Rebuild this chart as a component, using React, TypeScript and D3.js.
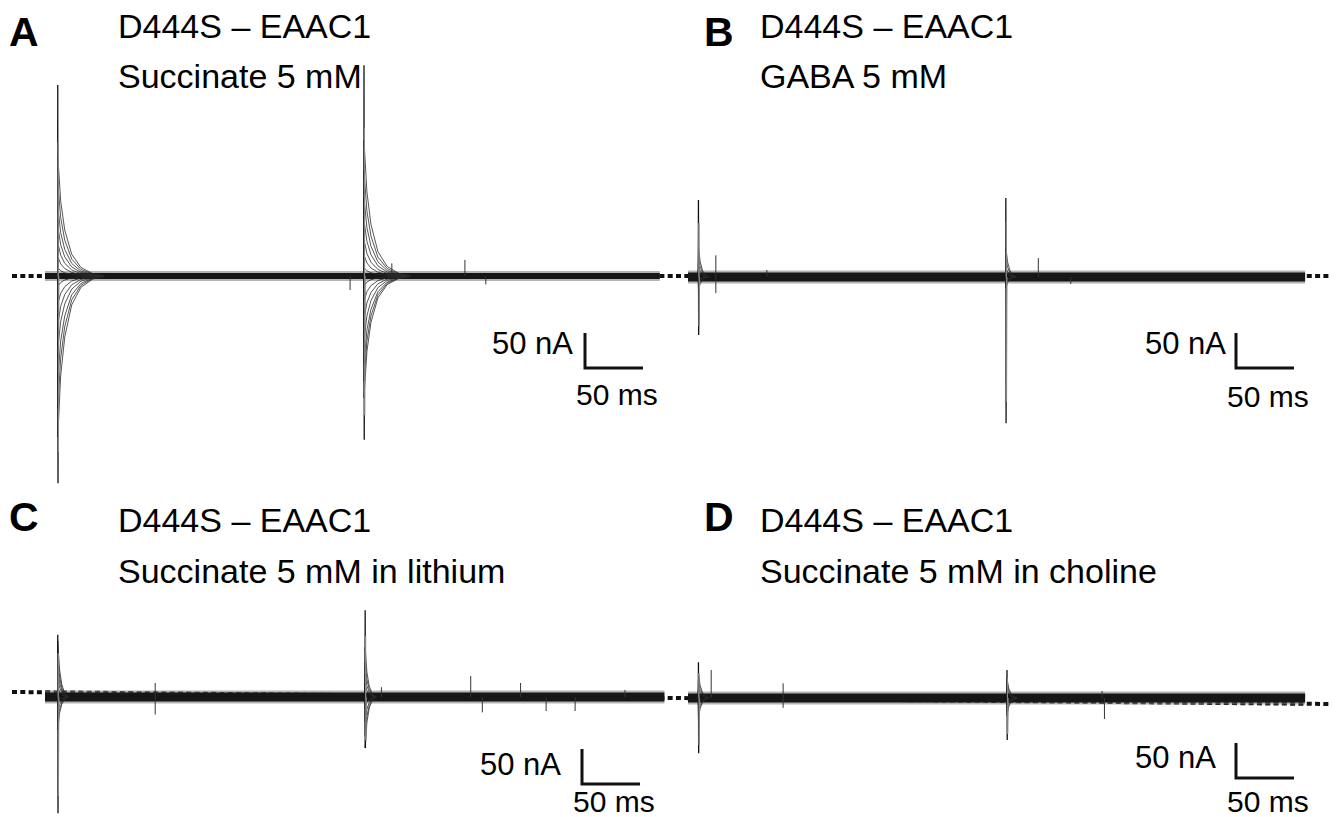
import React from 'react';
import * as d3 from 'd3';

// recordings: paired voltage pulses, family of sweeps overlaid
const panelLetters = ['A', 'B', 'C', 'D'];
const constructName = 'D444S \u2013 EAAC1';
const conditions = ['Succinate 5 mM', 'GABA 5 mM', 'Succinate 5 mM in lithium', 'Succinate 5 mM in choline'];

const sweepEndMs = [530, 532, 534, 532];
const pulse1Ms = [11, 9, 11, 9];
const pulse2Ms = [275, 274, 276, 275];

// capacitive spike extremes (nA), [pulse1, pulse2]
const spikePeakNa = [[273, 301], [110, 113], [89, 124], [51, 40]];
const spikeTroughNa = [[-296, -234], [-83, -209], [-166, -73], [-79, -60]];

// transient amplitude of each sweep of the family (nA)
const familyA1 = [173, 135, 100, 72, 48, 28, 12, -15, -40, -70, -105, -150, -190, -230];
const familyA2 = [194, 150, 112, 80, 52, 30, 12, -14, -36, -62, -92, -125, -150, -174];
const familyB1 = [43, 30, 18, 8, -6, -12, -19];
const familyB2 = [43, 28, 15, 6, -5, -10, -16];
const familyC1 = [80, 60, 42, 28, 15, -10, -22, -35, -47];
const familyC2 = [71, 50, 32, 18, -15, -35, -55, -73];
const familyD1 = [35, 25, 15, -12, -22, -29];
const familyD2 = [28, 20, 12, -10, -18, -25];
const families = [[familyA1, familyA2], [familyB1, familyB2], [familyC1, familyC2], [familyD1, familyD2]];

// relaxation after the pulse, fraction of peak vs time (ms)
const slowDecayMs = [0, 2.5, 6, 12, 20, 30, 40];
const slowDecayFrac = [1, 0.62, 0.38, 0.18, 0.07, 0.02, 0];
const fastDecayMs = [0, 1.5, 3.5, 6, 9];
const fastDecayFrac = [1, 0.5, 0.22, 0.07, 0];

// stray noise spikes [ms, nA]
const artifactsA = [[263, -20], [299, 18], [362, 23], [380, -12]];
const artifactsB = [[24, 31], [24, -23], [68, 10], [302, 27], [330, -10]];
const artifactsC = [[95, 20], [95, -25], [290, 14], [367, 30], [377, -22], [410, 20], [432, -20], [457, -20], [500, 10]];
const artifactsD = [[20, 40], [82, 21], [82, -14], [359, -30], [357, 10]];
const artifacts = [artifactsA, artifactsB, artifactsC, artifactsD];

const PX_PER_MS = 58 / 50;
const PX_PER_NA = 35 / 50;

const layout = [
  { x0: 45, y0: 276, band: 7, lx: 9, ly: 46, tx: 118, t1: 38, t2: 88, nax: 492, nay: 354, bx: 585, by: 368, msy: 405 },
  { x0: 688, y0: 277, band: 10, lx: 704, ly: 46, tx: 760, t1: 38, t2: 88, nax: 1145, nay: 354, bx: 1236, by: 368, msy: 407 },
  { x0: 45, y0: 697, band: 10, lx: 9, ly: 531, tx: 118, t1: 532, t2: 583, nax: 480, nay: 775, bx: 582, by: 784, msy: 812 },
  { x0: 688, y0: 698, band: 10, lx: 704, ly: 531, tx: 760, t1: 532, t2: 583, nax: 1135, nay: 768, bx: 1236, by: 778, msy: 812 },
];

const font = '"Liberation Sans", Arial, Helvetica, sans-serif';

function Panel({ i }: { i: number }) {
  const L = layout[i];
  const x = d3.scaleLinear().domain([0, sweepEndMs[i]]).range([L.x0, L.x0 + sweepEndMs[i] * PX_PER_MS]);
  const y = d3.scaleLinear().domain([0, 50]).range([L.y0, L.y0 - 50 * PX_PER_NA]);
  const line = d3.line<number[]>().x(d => x(d[0])).y(d => y(d[1]));
  const decT = i === 0 ? slowDecayMs : fastDecayMs;
  const decV = i === 0 ? slowDecayFrac : fastDecayFrac;
  const pulses = [pulse1Ms[i], pulse2Ms[i]];

  // scale bar built from same scales
  const sbx = d3.scaleLinear().domain([0, 50]).range([L.bx, L.bx + 50 * PX_PER_MS]);
  const sby = d3.scaleLinear().domain([0, 50]).range([L.by, L.by - 50 * PX_PER_NA]);

  return (
    <g>
      <text x={L.lx} y={L.ly} fontFamily={font} fontWeight="bold" fontSize={41}>{panelLetters[i]}</text>
      <text x={L.tx} y={L.t1} fontFamily={font} fontSize={34}>{constructName}</text>
      <text x={L.tx} y={L.t2} fontFamily={font} fontSize={34}>{conditions[i]}</text>

      {/* baseline band of all sweeps */}
      <path d={line([[0, 0], [sweepEndMs[i], 0]]) || ''} stroke="#777" strokeWidth={L.band + 3} fill="none" opacity={0.55} />
      <path d={line([[0, 0], [sweepEndMs[i], 0]]) || ''} stroke="#161616" strokeWidth={L.band - 1} fill="none" />

      {artifacts[i].map((a, k) => (
        <path key={'a' + k} d={line([[a[0], 0], [a[0], a[1]]]) || ''} stroke="#333" strokeWidth={1} fill="none" />
      ))}

      {pulses.map((tp, p) => (
        <g key={'p' + p}>
          {families[i][p].map((amp, k) => {
            const pts = [[tp - 0.2, 0], ...decT.map((t, j) => [tp + t, amp * decV[j]])];
            return <path key={k} d={line(pts) || ''} stroke="#2a2a2a" strokeWidth={0.8} fill="none" />;
          })}
          <path d={line([[tp - 0.1, 0], [tp, spikePeakNa[i][p]], [tp + 0.2, spikeTroughNa[i][p]], [tp + 0.5, 0]]) || ''}
            stroke="#111" strokeWidth={1.3} fill="none" />
          <path d={line([[tp + 0.3, 0], [tp + 0.4, spikePeakNa[i][p] * 0.7], [tp + 0.6, spikeTroughNa[i][p] * 0.85], [tp + 1, 0]]) || ''}
            stroke="#888" strokeWidth={1} fill="none" />
        </g>
      ))}

      {/* scale bar 50 nA / 50 ms */}
      <path d={`M${sbx(0)},${sby(50)}V${sby(0)}H${sbx(50)}`} stroke="#111" strokeWidth={3} fill="none" />
      <text x={L.nax} y={L.nay} fontFamily={font} fontSize={31}>50 nA</text>
      <text x={sbx(0) - 9} y={L.msy} fontFamily={font} fontSize={30}>50 ms</text>
    </g>
  );
}

export default function App() {
  return (
    <svg width={1343} height={817} style={{ position: 'absolute', left: 0, top: 0, background: '#fff' }}>
      <rect width={1343} height={817} fill="#fff" />
      <line x1={12} y1={276} x2={1330} y2={276} stroke="#111" strokeWidth={4} strokeDasharray="5,3.3" />
      <line x1={12} y1={692} x2={1330} y2={704} stroke="#111" strokeWidth={4} strokeDasharray="5,3.3" />
      {panelLetters.map((_, i) => <Panel key={i} i={i} />)}
    </svg>
  );
}
